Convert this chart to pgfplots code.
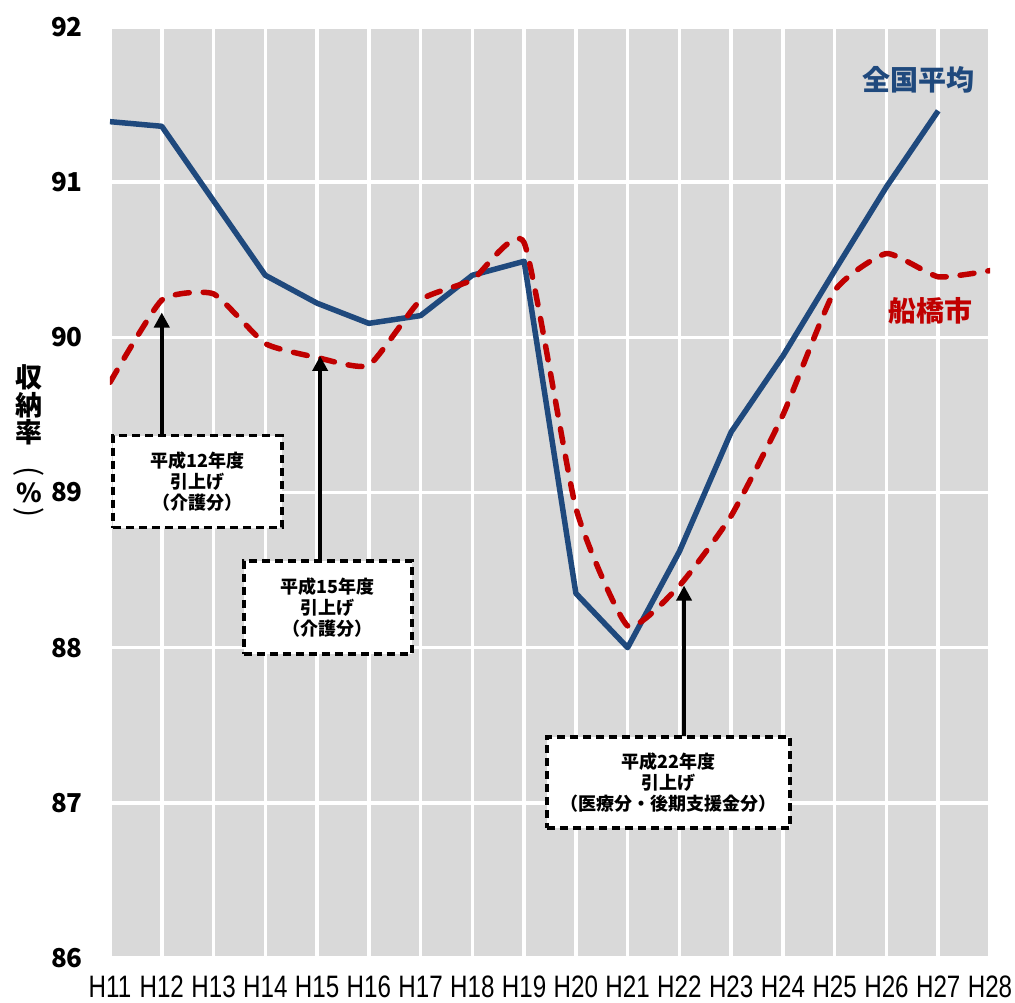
\documentclass[border=0pt]{standalone}
\usepackage{pgfplots}
\pgfplotsset{compat=1.18}
\usetikzlibrary{arrows.meta}
\usepackage{fontspec}
\setmainfont{Noto Sans CJK JP}
\newfontfamily\latinfont{Liberation Sans}
\definecolor{natblue}{RGB}{31,73,125}
\definecolor{funared}{RGB}{192,0,0}
\definecolor{plotgray}{RGB}{217,217,217}
\newcommand\xl[1]{\scalebox{0.78}[1]{#1}}

\begin{document}
\begin{tikzpicture}
\useasboundingbox (-110pt,-44pt) rectangle (905pt,958pt);
\begin{axis}[
    scale only axis,
    width=880pt, height=931pt,
    xmin=0, xmax=17, ymin=86, ymax=92,
    axis line style={draw=none},
    major tick length=0pt,
    axis background/.style={fill=plotgray},
    grid=major,
    grid style={white, line width=3.5pt},
    xtick={0,...,17},
    xticklabels={\xl{H11},\xl{H12},\xl{H13},\xl{H14},\xl{H15},\xl{H16},\xl{H17},\xl{H18},\xl{H19},
                 \xl{H20},\xl{H21},\xl{H22},\xl{H23},\xl{H24},\xl{H25},\xl{H26},\xl{H27},\xl{H28}},
    ytick={86,...,92},
    /pgf/number format/assume math mode=true,
    xticklabel style={font=\latinfont\fontsize{31}{31}\selectfont, anchor=base, inner sep=0pt, yshift=-39pt},
    yticklabel style={font=\bfseries\fontsize{26}{26}\selectfont, anchor=east, inner sep=0pt, xshift=-27pt},
]
% 全国平均
\addplot[natblue, line width=5.5pt, line join=round] coordinates {
    (0,91.39) (1,91.36) (2,90.88) (3,90.40) (4,90.22) (5,90.09) (6,90.14) (7,90.40) (8,90.49)
    (9,88.35) (10,88.00) (11,88.62) (12,89.39) (13,89.88) (14,90.43) (15,90.97) (16,91.46)};
% 船橋市
\addplot[funared, line width=5.5pt, line cap=round, dash pattern=on 14pt off 14pt, smooth, tension=0.3] coordinates {
    (0,89.71) (1,90.24) (2,90.28) (3,89.96) (4,89.87) (5,89.82) (6,90.24) (7,90.37) (8,90.61)
    (9,88.90) (10,88.14) (11,88.40) (12,88.85) (13,89.50) (14,90.30) (15,90.54) (16,90.39) (17,90.43)};

\node[natblue, font=\bfseries\fontsize{28}{28}\selectfont] at (axis cs:15.62,91.66) {全国平均};
\node[funared, font=\bfseries\fontsize{28}{28}\selectfont] at (axis cs:15.85,90.17) {船橋市};

\tikzset{
  arr/.style={black, line width=4pt, -{Triangle[width=15pt,length=15pt]}},
  note/.style={draw=black, line width=3.5pt, dash pattern=on 8pt off 5pt, fill=white,
               align=center, inner sep=0pt, font=\bfseries\fontsize{18}{21}\selectfont}
}
\draw[arr] (axis cs:1,89.36) -- (axis cs:1,90.16);
\draw[arr] (axis cs:4.06,88.56) -- (axis cs:4.06,89.88);
\draw[arr] (axis cs:11.09,87.43) -- (axis cs:11.09,88.40);

\node[note, minimum width=169pt, minimum height=92pt] at (axis cs:1.69,89.07) {平成12年度\\引上げ\\（介護分）};
\node[note, minimum width=168pt, minimum height=93pt] at (axis cs:4.21,88.26) {平成15年度\\引上げ\\（介護分）};
\node[note, minimum width=243pt, minimum height=91pt] at (axis cs:10.79,87.13) {平成22年度\\引上げ\\（医療分・後期支援金分）};
\end{axis}
\node[font=\bfseries\fontsize{27}{27.5}\selectfont, align=center] at (-81pt,553pt) {収\\納\\率};
\node[font=\fontsize{30}{30}\selectfont, inner sep=0pt] at (-81pt,486pt) {\rotatebox{-90}{(}};
\node[font=\bfseries\fontsize{26}{26}\selectfont, inner sep=0pt] at (-81pt,465pt) {\%};
\node[font=\fontsize{30}{30}\selectfont, inner sep=0pt] at (-81pt,445pt) {\rotatebox{-90}{)}};
\end{tikzpicture}
\end{document}
